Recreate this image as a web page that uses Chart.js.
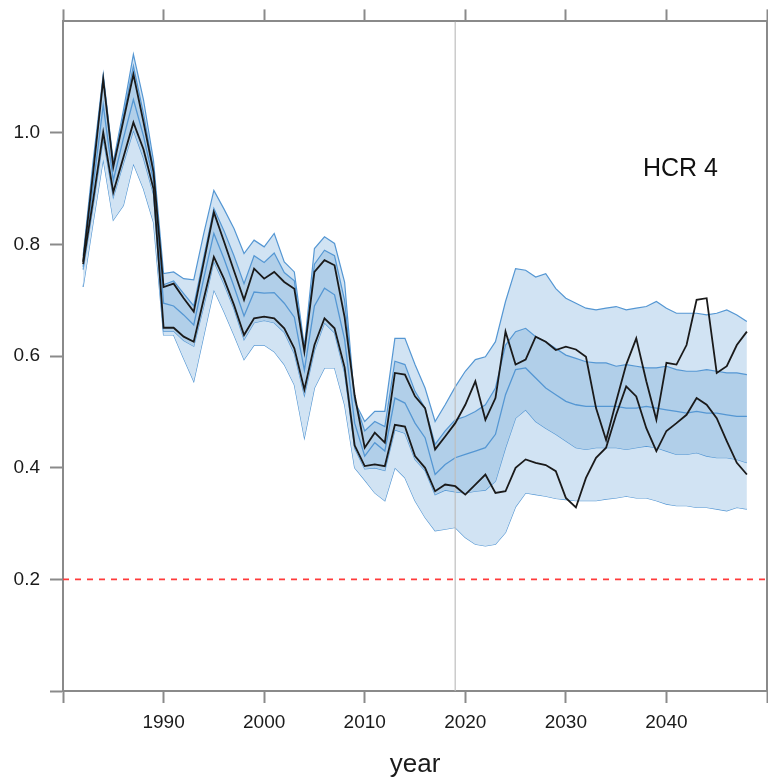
<!DOCTYPE html>
<html><head><meta charset="utf-8">
<script src="https://cdn.jsdelivr.net/npm/chart.js@4.4.0/dist/chart.umd.min.js"></script>
<style>
html,body{margin:0;padding:0;overflow:hidden;background:#fff;width:768px;height:784px}
#wrap{position:absolute;left:0;top:0;width:780px;height:784px}
</style>
</head><body><div id="wrap"><canvas id="c"></canvas></div>
<script>
const YEARS = [1982,1983,1984,1985,1986,1987,1988,1989,1990,1991,1992,1993,1994,1995,1996,1997,1998,1999,2000,2001,2002,2003,2004,2005,2006,2007,2008,2009,2010,2011,2012,2013,2014,2015,2016,2017,2018,2019,2020,2021,2022,2023,2024,2025,2026,2027,2028,2029,2030,2031,2032,2033,2034,2035,2036,2037,2038,2039,2040,2041,2042,2043,2044,2045,2046,2047,2048];

const BLACK_A = [0.769,0.93,1.096,0.939,1.022,1.105,1.02,0.93,0.724,0.730,0.704,0.680,0.769,0.858,0.806,0.753,0.701,0.757,0.739,0.751,0.733,0.721,0.608,0.751,0.772,0.763,0.67,0.53,0.436,0.463,0.445,0.570,0.567,0.528,0.507,0.433,0.456,0.480,0.513,0.555,0.486,0.525,0.644,0.585,0.594,0.635,0.626,0.611,0.617,0.612,0.599,0.507,0.450,0.519,0.585,0.632,0.555,0.486,0.588,0.585,0.620,0.701,0.704,0.570,0.582,0.620,0.644];

const BLACK_B = [0.765,0.88,1.001,0.894,0.956,1.019,0.971,0.90,0.651,0.651,0.635,0.626,0.703,0.778,0.739,0.692,0.638,0.668,0.671,0.668,0.650,0.614,0.540,0.620,0.668,0.650,0.58,0.44,0.403,0.406,0.403,0.477,0.474,0.421,0.400,0.358,0.370,0.367,0.352,0.370,0.388,0.355,0.358,0.400,0.415,0.409,0.405,0.394,0.346,0.329,0.382,0.418,0.436,0.495,0.546,0.528,0.471,0.430,0.466,0.480,0.495,0.525,0.513,0.489,0.448,0.409,0.388];

const Q95 = [0.78,0.95,1.105,0.948,1.04,1.141,1.06,0.95,0.748,0.751,0.739,0.737,0.82,0.897,0.864,0.829,0.784,0.808,0.796,0.820,0.769,0.751,0.617,0.793,0.814,0.802,0.733,0.519,0.483,0.501,0.501,0.632,0.632,0.585,0.543,0.483,0.513,0.545,0.573,0.594,0.599,0.626,0.698,0.757,0.754,0.742,0.748,0.721,0.704,0.695,0.686,0.683,0.686,0.689,0.683,0.686,0.689,0.698,0.686,0.677,0.677,0.677,0.674,0.677,0.683,0.674,0.662];

const Q75 = [0.772,0.935,1.10,0.942,1.03,1.12,1.035,0.935,0.728,0.735,0.712,0.69,0.778,0.865,0.825,0.78,0.73,0.78,0.768,0.785,0.75,0.735,0.61,0.765,0.79,0.78,0.70,0.52,0.466,0.483,0.474,0.591,0.585,0.537,0.507,0.442,0.466,0.486,0.492,0.501,0.513,0.543,0.620,0.644,0.650,0.635,0.626,0.614,0.602,0.596,0.590,0.588,0.588,0.582,0.585,0.582,0.579,0.579,0.582,0.576,0.573,0.573,0.576,0.573,0.570,0.570,0.567];

const Q50 = [0.76,0.905,1.05,0.915,0.99,1.06,0.995,0.915,0.695,0.69,0.674,0.656,0.74,0.82,0.775,0.725,0.672,0.715,0.713,0.714,0.695,0.67,0.575,0.69,0.722,0.71,0.63,0.48,0.421,0.445,0.430,0.525,0.516,0.480,0.454,0.388,0.406,0.418,0.424,0.430,0.436,0.460,0.531,0.576,0.579,0.561,0.543,0.531,0.519,0.513,0.510,0.510,0.510,0.510,0.507,0.507,0.510,0.507,0.504,0.501,0.498,0.501,0.498,0.498,0.495,0.492,0.492];

const Q25 = [0.755,0.87,0.99,0.885,0.945,1.005,0.955,0.89,0.645,0.645,0.628,0.618,0.69,0.77,0.73,0.685,0.63,0.66,0.664,0.66,0.643,0.605,0.53,0.61,0.66,0.642,0.57,0.435,0.398,0.400,0.395,0.468,0.462,0.415,0.395,0.352,0.360,0.357,0.355,0.358,0.360,0.376,0.436,0.489,0.504,0.483,0.471,0.460,0.448,0.436,0.433,0.436,0.436,0.436,0.433,0.436,0.439,0.436,0.430,0.424,0.424,0.427,0.421,0.418,0.418,0.415,0.409];

const Q05 = [0.724,0.84,0.953,0.844,0.87,0.945,0.90,0.84,0.638,0.638,0.596,0.555,0.637,0.719,0.680,0.638,0.594,0.620,0.620,0.608,0.585,0.549,0.454,0.543,0.579,0.579,0.513,0.40,0.378,0.355,0.341,0.400,0.382,0.341,0.311,0.287,0.290,0.293,0.275,0.263,0.260,0.263,0.284,0.330,0.355,0.352,0.349,0.345,0.343,0.341,0.341,0.341,0.344,0.346,0.349,0.346,0.346,0.341,0.335,0.332,0.332,0.329,0.329,0.326,0.323,0.329,0.326];

const X_TICKS = [1980,1990,2000,2010,2020,2030,2040,2050];
const X_LABELS = ['', '1990','2000','2010','2020','2030','2040',''];
const Y_TICKS = [0,0.2,0.4,0.6,0.8,1.0,1.2];
const Y_LABELS = ['', '0.2','0.4','0.6','0.8','1.0',''];
const X_MIN = 1980, X_MAX = 2050, Y_MIN = 0, Y_MAX = 1.2;
const LIMIT = 0.2;
const CURRENT_YEAR = 2019;
const PANEL_LABEL = 'HCR 4';
const X_TITLE = 'year';

const FONT = '"Liberation Sans", Arial, Helvetica, sans-serif';
const AXIS_COL = '#8a8a8a';
const EDGE = '#5597d3';
const OUTER = '#d1e3f3';
const INNER = '#b1cfe9';
const BLACK = '#1a1a1a';

const pts = arr => YEARS.map((y, i) => ({x: y, y: arr[i]}));

const labelPlugin = {
  id: 'panelLabel',
  afterDraw(chart) {
    const c = chart.ctx, a = chart.chartArea;
    c.save();
    c.font = '25px ' + FONT;
    c.fillStyle = '#111';
    c.textBaseline = 'alphabetic';
    c.textAlign = 'right';
    c.fillText(PANEL_LABEL, a.right - 49, 176);
    c.restore();
  }
};

const tickCol = max => ctx => (ctx.tick && ctx.tick.value > max) ? 'rgba(0,0,0,0)' : AXIS_COL;

const baseY = {
  type: 'linear', min: Y_MIN, max: Y_MAX,
  afterBuildTicks: s => { s.ticks = Y_TICKS.map(v => ({value: v})); },
  border: {display: true, color: AXIS_COL, width: 2},
  grid: {drawOnChartArea: false, drawTicks: true, tickLength: 13, tickWidth: 2, tickColor: tickCol(1.1), color: AXIS_COL}
};
const baseX = {
  type: 'linear', min: X_MIN, max: X_MAX,
  afterBuildTicks: s => { s.ticks = X_TICKS.map(v => ({value: v})); },
  border: {display: true, color: AXIS_COL, width: 2},
  grid: {drawOnChartArea: false, drawTicks: true, tickLength: 12, tickWidth: 2, tickColor: AXIS_COL, color: AXIS_COL}
};

new Chart(document.getElementById('c'), {
  type: 'line',
  data: {
    datasets: [
      {label: 'limit', data: [{x: X_MIN, y: LIMIT}, {x: X_MAX, y: LIMIT}], borderColor: '#ff3b3b', borderWidth: 1.6, borderDash: [6, 6], fill: false},
      {label: 'A', data: pts(BLACK_A), borderColor: BLACK, borderWidth: 1.8, fill: false},
      {label: 'B', data: pts(BLACK_B), borderColor: BLACK, borderWidth: 1.8, fill: false},
      {label: 'now', data: [{x: CURRENT_YEAR, y: Y_MIN}, {x: CURRENT_YEAR, y: Y_MAX}], borderColor: 'rgba(190,190,190,0.8)', borderWidth: 1.5, fill: false},
      {label: 'q50', data: pts(Q50), borderColor: EDGE, borderWidth: 1.3, fill: false},
      {label: 'q75', data: pts(Q75), borderColor: EDGE, borderWidth: 1.2, fill: '+1', backgroundColor: INNER},
      {label: 'q25', data: pts(Q25), borderColor: EDGE, borderWidth: 1.2, fill: false},
      {label: 'q95', data: pts(Q95), borderColor: EDGE, borderWidth: 1.2, fill: '+1', backgroundColor: OUTER},
      {label: 'q05', data: pts(Q05), borderColor: EDGE, borderWidth: 1.2, fill: false}
    ]
  },
  options: {
    responsive: true, maintainAspectRatio: false, animation: false,
    elements: {point: {radius: 0}, line: {tension: 0}},
    layout: {padding: 0},
    plugins: {legend: {display: false}, tooltip: {enabled: false}, title: {display: false}},
    scales: {
      x: Object.assign({}, baseX, {
        position: 'bottom',
        afterFit: s => { s.height = 93; },
        ticks: {display: true, padding: 8, color: '#1a1a1a', font: {family: FONT, size: 19},
                callback: v => X_LABELS[X_TICKS.indexOf(v)] ?? ''},
        title: {display: true, text: X_TITLE, color: '#1a1a1a', font: {family: FONT, size: 26}, padding: {top: 0, bottom: 4}}
      }),
      x2: Object.assign({}, baseX, {
        position: 'top',
        afterFit: s => { s.height = 19; },
        ticks: {display: false}
      }),
      y: Object.assign({}, baseY, {
        position: 'left',
        afterFit: s => { s.width = 63; },
        ticks: {display: true, padding: 10, color: '#1a1a1a', font: {family: FONT, size: 19},
                callback: v => { const i = Y_TICKS.findIndex(t => Math.abs(t - v) < 1e-6); return i >= 0 ? Y_LABELS[i] : ''; }}
      }),
      y2: Object.assign({}, baseY, {
        position: 'right',
        afterFit: s => { s.width = 13; },
        ticks: {display: false}
      })
    }
  },
  plugins: [labelPlugin]
});
</script>
</body></html>
